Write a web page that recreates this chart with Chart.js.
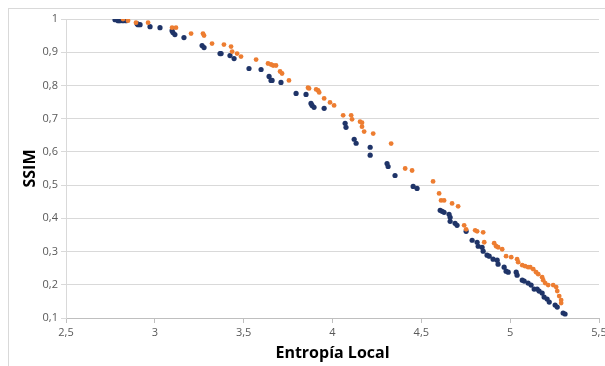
<!DOCTYPE html>
<html>
<head>
<meta charset="utf-8">
<script src="https://cdn.jsdelivr.net/npm/chart.js@4/dist/chart.umd.min.js"></script>
<style>
  body { margin: 0; background: #fff; }
  #wrap { position: relative; width: 605px; height: 366px; overflow: hidden; }
  #marco { position: absolute; left: 8px; top: 8px; width: 640px; height: 400px; border: 1px solid #d9d9d9; }
  #grafico { position: absolute; left: 0; top: 0; }
</style>
</head>
<body>
<div id="wrap">
  <div id="marco"></div>
  <canvas id="grafico" width="605" height="366"></canvas>
</div>
<script>
// --- dados ---
const entropiaAzul = [2.776, 2.793, 2.804, 2.821, 2.838, 2.900, 2.905, 2.917, 2.973, 3.029, 3.097, 3.102, 3.113, 3.164, 3.266, 3.277,
  3.367, 3.373, 3.423, 3.446, 3.530, 3.598, 3.643, 3.654, 3.660, 3.710, 3.795, 3.851, 3.879, 3.885, 3.896, 3.953,
  4.071, 4.076, 4.122, 4.133, 4.212, 4.212, 4.307, 4.313, 4.352, 4.454, 4.476, 4.606, 4.617, 4.628, 4.656, 4.662,
  4.662, 4.690, 4.701, 4.752, 4.786, 4.814, 4.820, 4.842, 4.848, 4.870, 4.882, 4.904, 4.927, 4.932, 4.966, 4.977,
  4.989, 5.034, 5.039, 5.068, 5.079, 5.101, 5.118, 5.135, 5.152, 5.163, 5.180, 5.191, 5.208, 5.220, 5.253, 5.265,
  5.298, 5.309];
const ssimAzul = [0.998, 0.995, 0.995, 0.995, 0.995, 0.986, 0.983, 0.983, 0.977, 0.974, 0.965, 0.959, 0.953, 0.944, 0.920, 0.914,
  0.896, 0.896, 0.890, 0.881, 0.851, 0.848, 0.827, 0.815, 0.815, 0.809, 0.776, 0.773, 0.746, 0.740, 0.734, 0.731,
  0.686, 0.674, 0.638, 0.626, 0.614, 0.590, 0.565, 0.556, 0.529, 0.496, 0.490, 0.424, 0.421, 0.418, 0.412, 0.403,
  0.391, 0.385, 0.379, 0.361, 0.334, 0.328, 0.316, 0.313, 0.301, 0.289, 0.286, 0.277, 0.274, 0.262, 0.253, 0.241,
  0.238, 0.238, 0.229, 0.214, 0.211, 0.205, 0.199, 0.187, 0.187, 0.181, 0.175, 0.163, 0.157, 0.148, 0.139, 0.133,
  0.115, 0.112];

const entropiaLaranja = [2.821, 2.849, 2.894, 2.962, 3.097, 3.119, 3.204, 3.271, 3.277, 3.322, 3.389, 3.429, 3.435, 3.463, 3.485, 3.570,
  3.637, 3.654, 3.666, 3.682, 3.705, 3.716, 3.755, 3.862, 3.868, 3.908, 3.919, 3.925, 3.953, 3.986, 4.009, 4.060,
  4.105, 4.110, 4.155, 4.166, 4.166, 4.178, 4.229, 4.330, 4.409, 4.448, 4.566, 4.600, 4.611, 4.628, 4.673, 4.707,
  4.741, 4.752, 4.803, 4.814, 4.848, 4.854, 4.910, 4.921, 4.932, 4.955, 4.977, 5.006, 5.039, 5.045, 5.068, 5.084,
  5.101, 5.113, 5.130, 5.146, 5.158, 5.180, 5.186, 5.197, 5.214, 5.242, 5.259, 5.265, 5.276, 5.287, 5.287];
const ssimLaranja = [1.000, 0.995, 0.989, 0.989, 0.974, 0.974, 0.956, 0.956, 0.950, 0.926, 0.923, 0.917, 0.902, 0.896, 0.887, 0.878,
  0.866, 0.863, 0.860, 0.860, 0.842, 0.836, 0.815, 0.793, 0.791, 0.788, 0.785, 0.779, 0.761, 0.749, 0.740, 0.710,
  0.710, 0.698, 0.691, 0.688, 0.676, 0.661, 0.655, 0.625, 0.550, 0.544, 0.511, 0.475, 0.454, 0.454, 0.445, 0.436,
  0.379, 0.367, 0.364, 0.361, 0.358, 0.328, 0.325, 0.316, 0.313, 0.307, 0.286, 0.283, 0.277, 0.268, 0.259, 0.256,
  0.253, 0.253, 0.247, 0.238, 0.232, 0.223, 0.214, 0.205, 0.199, 0.199, 0.193, 0.181, 0.166, 0.154, 0.145];

// eixos
const eixoX = { min: 2.5, max: 5.5, passo: 0.5, titulo: 'Entropía Local' };
const eixoY = { min: 0.1, max: 1, passo: 0.1, titulo: 'SSIM' };

function paraPontos(xs, ys) {
  return xs.map((x, i) => ({ x: x, y: ys[i] }));
}

// formato com vírgula decimal
function formatar(v) {
  return String(Number(v.toFixed(1))).replace('.', ',');
}

const corTexto = '#595959';
const fonteTicks = { family: 'Open Sans', size: 11 };

new Chart(document.getElementById('grafico'), {
  type: 'scatter',
  data: {
    datasets: [
      {
        label: 'Série 1',
        data: paraPontos(entropiaLaranja, ssimLaranja),
        backgroundColor: '#ED7D31',
        borderWidth: 0,
        pointRadius: 2.4
      },
      {
        label: 'Série 2',
        data: paraPontos(entropiaAzul, ssimAzul),
        backgroundColor: '#1F3468',
        borderWidth: 0,
        pointRadius: 2.6
      }
    ]
  },
  options: {
    responsive: false,
    animation: false,
    layout: { padding: { top: 19, right: 6, left: 0, bottom: 0 } },
    plugins: { legend: { display: false }, tooltip: { enabled: false } },
    scales: {
      x: {
        type: 'linear',
        min: eixoX.min,
        max: eixoX.max,
        afterFit: s => { s.height = 48; s.paddingLeft = 0; s.paddingRight = 0; },
        ticks: { stepSize: eixoX.passo, color: corTexto, font: fonteTicks, padding: 3, maxRotation: 0, callback: v => formatar(v) },
        grid: { drawOnChartArea: false, drawTicks: true, tickLength: 5, color: '#bfbfbf' },
        border: { color: '#bfbfbf' },
        title: { display: true, text: eixoX.titulo, color: '#000', font: { family: 'Open Sans', size: 16, weight: 'bold' }, padding: { top: 0, bottom: 3 } }
      },
      y: {
        min: eixoY.min,
        max: eixoY.max,
        afterFit: s => { s.width = 66; },
        ticks: { stepSize: eixoY.passo, color: corTexto, font: fonteTicks, padding: 3, callback: v => formatar(v) },
        grid: { color: '#d9d9d9', drawTicks: true, tickLength: 5 },
        border: { color: '#d9d9d9' },
        title: { display: true, text: eixoY.titulo, color: '#000', font: { family: 'Open Sans', size: 16, weight: 'bold' }, padding: { top: 21, bottom: 0 } }
      }
    }
  }
});
</script>
</body>
</html>
